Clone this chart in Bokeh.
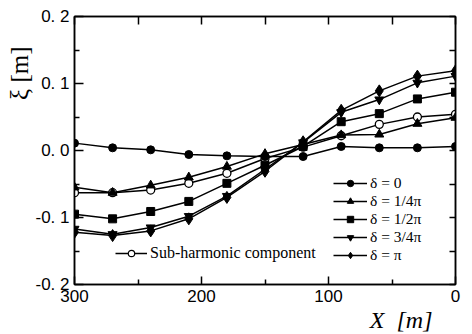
from bokeh.plotting import figure
from bokeh.models import (Range1d, LinearAxis, FixedTicker, Legend, LegendItem, Title,
                          CustomJSTickFormatter)
from bokeh.embed import file_html
from bokeh.resources import INLINE

# ---- data ----
x_m = [300, 270, 240, 210, 180, 150, 120, 90, 60, 30, 0]
d_0 = [0.011, 0.004, 0.001, -0.006, -0.008, -0.009, -0.009, 0.006, 0.004, 0.004, 0.006]
d_quarter = [-0.055, -0.063, -0.052, -0.040, -0.024, -0.005, 0.009, 0.023, 0.024, 0.040, 0.049]
d_half = [-0.095, -0.102, -0.091, -0.076, -0.049, -0.022, 0.006, 0.043, 0.055, 0.077, 0.087]
d_3quarter = [-0.117, -0.125, -0.115, -0.098, -0.068, -0.028, 0.012, 0.057, 0.076, 0.101, 0.111]
d_pi = [-0.122, -0.127, -0.120, -0.102, -0.070, -0.031, 0.013, 0.060, 0.089, 0.111, 0.119]
sub_harm = [-0.063, -0.063, -0.059, -0.049, -0.034, -0.012, 0.005, 0.022, 0.039, 0.050, 0.054]

x_ticks = [300, 200, 100, 0]
x_minor = [250, 150, 50]
x_tick_labels = ["300", "200", "100", "0"]
y_ticks = [-0.2, -0.1, 0.0, 0.1, 0.2]
y_minor = [-0.15, -0.05, 0.05, 0.15]
y_tick_labels = ["-0. 2", "-0. 1", "0. 0", "0. 1", "0. 2"]

legend_labels = ["δ = 0", "δ = 1/4π", "δ = 1/2π", "δ = 3/4π", "δ = π"]
sub_label = "Sub-harmonic component"
x_title = "X\u00a0 [m]"
y_title = "ξ [m]"

TICK_FONT = "Liberation Sans"
SERIF = "Liberation Serif"

p = figure(width=470, height=332, output_backend="svg", toolbar_location=None,
           x_range=Range1d(300, 0), y_range=Range1d(-0.2, 0.2),
           min_border_left=74, min_border_right=15, min_border_top=16, min_border_bottom=47)
p.xgrid.visible = False
p.ygrid.visible = False
p.outline_line_color = "black"
p.outline_line_width = 1.5
p.background_fill_color = "white"
p.border_fill_color = "white"


def style_axis(ax, ticks, minor, show_labels, major_in, minor_in):
    ax.ticker = FixedTicker(ticks=ticks, minor_ticks=minor)
    ax.axis_line_color = "black"
    ax.axis_line_width = 1.5
    ax.major_tick_in = major_in
    ax.major_tick_out = 0
    ax.minor_tick_in = minor_in
    ax.minor_tick_out = 0
    ax.major_tick_line_width = 1.5
    ax.minor_tick_line_width = 1.5
    ax.major_tick_line_color = "black"
    ax.minor_tick_line_color = "black"
    if show_labels:
        ax.major_label_text_font = TICK_FONT
        ax.major_label_text_font_size = "17px"
        ax.major_label_text_color = "black"
        ax.major_label_standoff = 5
    else:
        ax.major_label_text_color = None
        ax.major_label_text_font_size = "1px"
        ax.major_label_standoff = 0


def tick_formatter(tvals, tlabels):
    return CustomJSTickFormatter(args=dict(tvals=tvals, tlabels=tlabels), code="""
        let best = 0;
        for (let i = 0; i < tvals.length; i++) {
            if (Math.abs(tvals[i] - tick) < Math.abs(tvals[best] - tick)) best = i;
        }
        return tlabels[best];
    """)


style_axis(p.xaxis[0], x_ticks, x_minor, True, 8, 5)
p.xaxis[0].formatter = tick_formatter(x_ticks, x_tick_labels)
style_axis(p.yaxis[0], y_ticks, y_minor, True, 9, 5)
p.yaxis[0].formatter = tick_formatter(y_ticks, y_tick_labels)

top = LinearAxis()
style_axis(top, x_ticks, x_minor, False, 8, 8)
p.add_layout(top, "above")
right = LinearAxis()
style_axis(right, y_ticks, y_minor, False, 6, 6)
p.add_layout(right, "right")

series = [
    (d_0, "circle", 8),
    (d_quarter, "triangle", 9),
    (d_half, "square", 8),
    (d_3quarter, "inverted_triangle", 9),
    (d_pi, "diamond", 12),
]

# sub-harmonic first (drawn underneath)
l_sub = p.line(x_m, sub_harm, line_color="black", line_width=1.5)
p.scatter(x_m, sub_harm, marker="circle", size=8, fill_color="white",
          line_color="black", line_width=1.3)
s_sub_leg = p.scatter(x_m, sub_harm, marker="circle", size=6, fill_color="white",
                      line_color="black", line_width=1.2, visible=False)

items = []
for (vals, mk, sz), lab in zip(series, legend_labels):
    l = p.line(x_m, vals, line_color="black", line_width=1.5)
    p.scatter(x_m, vals, marker=mk, size=sz, fill_color="black", line_color="black")
    s_leg = p.scatter(x_m, vals, marker=mk, size=sz * 0.7, fill_color="black",
                      line_color="black", visible=False)
    items.append(LegendItem(label=lab, renderers=[l, s_leg]))


def style_legend(lg, font_size, glyph_w):
    lg.border_line_color = None
    lg.background_fill_alpha = 0
    lg.label_text_font = SERIF
    lg.label_text_font_size = font_size
    lg.label_text_color = "black"
    lg.glyph_width = glyph_w
    lg.glyph_height = 16
    lg.label_height = 16
    lg.label_standoff = 3
    lg.spacing = 0
    lg.padding = 0
    lg.margin = 0


leg = Legend(items=items, location=(259, 20))
style_legend(leg, "15.5px", 34)
p.add_layout(leg)

leg2 = Legend(items=[LegendItem(label=sub_label, renderers=[l_sub, s_sub_leg])], location=(41, 22))
style_legend(leg2, "16px", 32)
p.add_layout(leg2)

# axis titles
tx = Title(text=x_title, align="right", offset=23, standoff=0, text_font=SERIF,
           text_font_size="24px", text_font_style="italic", text_color="black")
p.add_layout(tx, "below")
ty = Title(text=y_title, align="right", offset=30, standoff=0, text_font=SERIF,
           text_font_size="25px", text_font_style="normal", text_color="black")
p.add_layout(ty, "left")

open("out.html", "w").write(file_html(p, INLINE))
